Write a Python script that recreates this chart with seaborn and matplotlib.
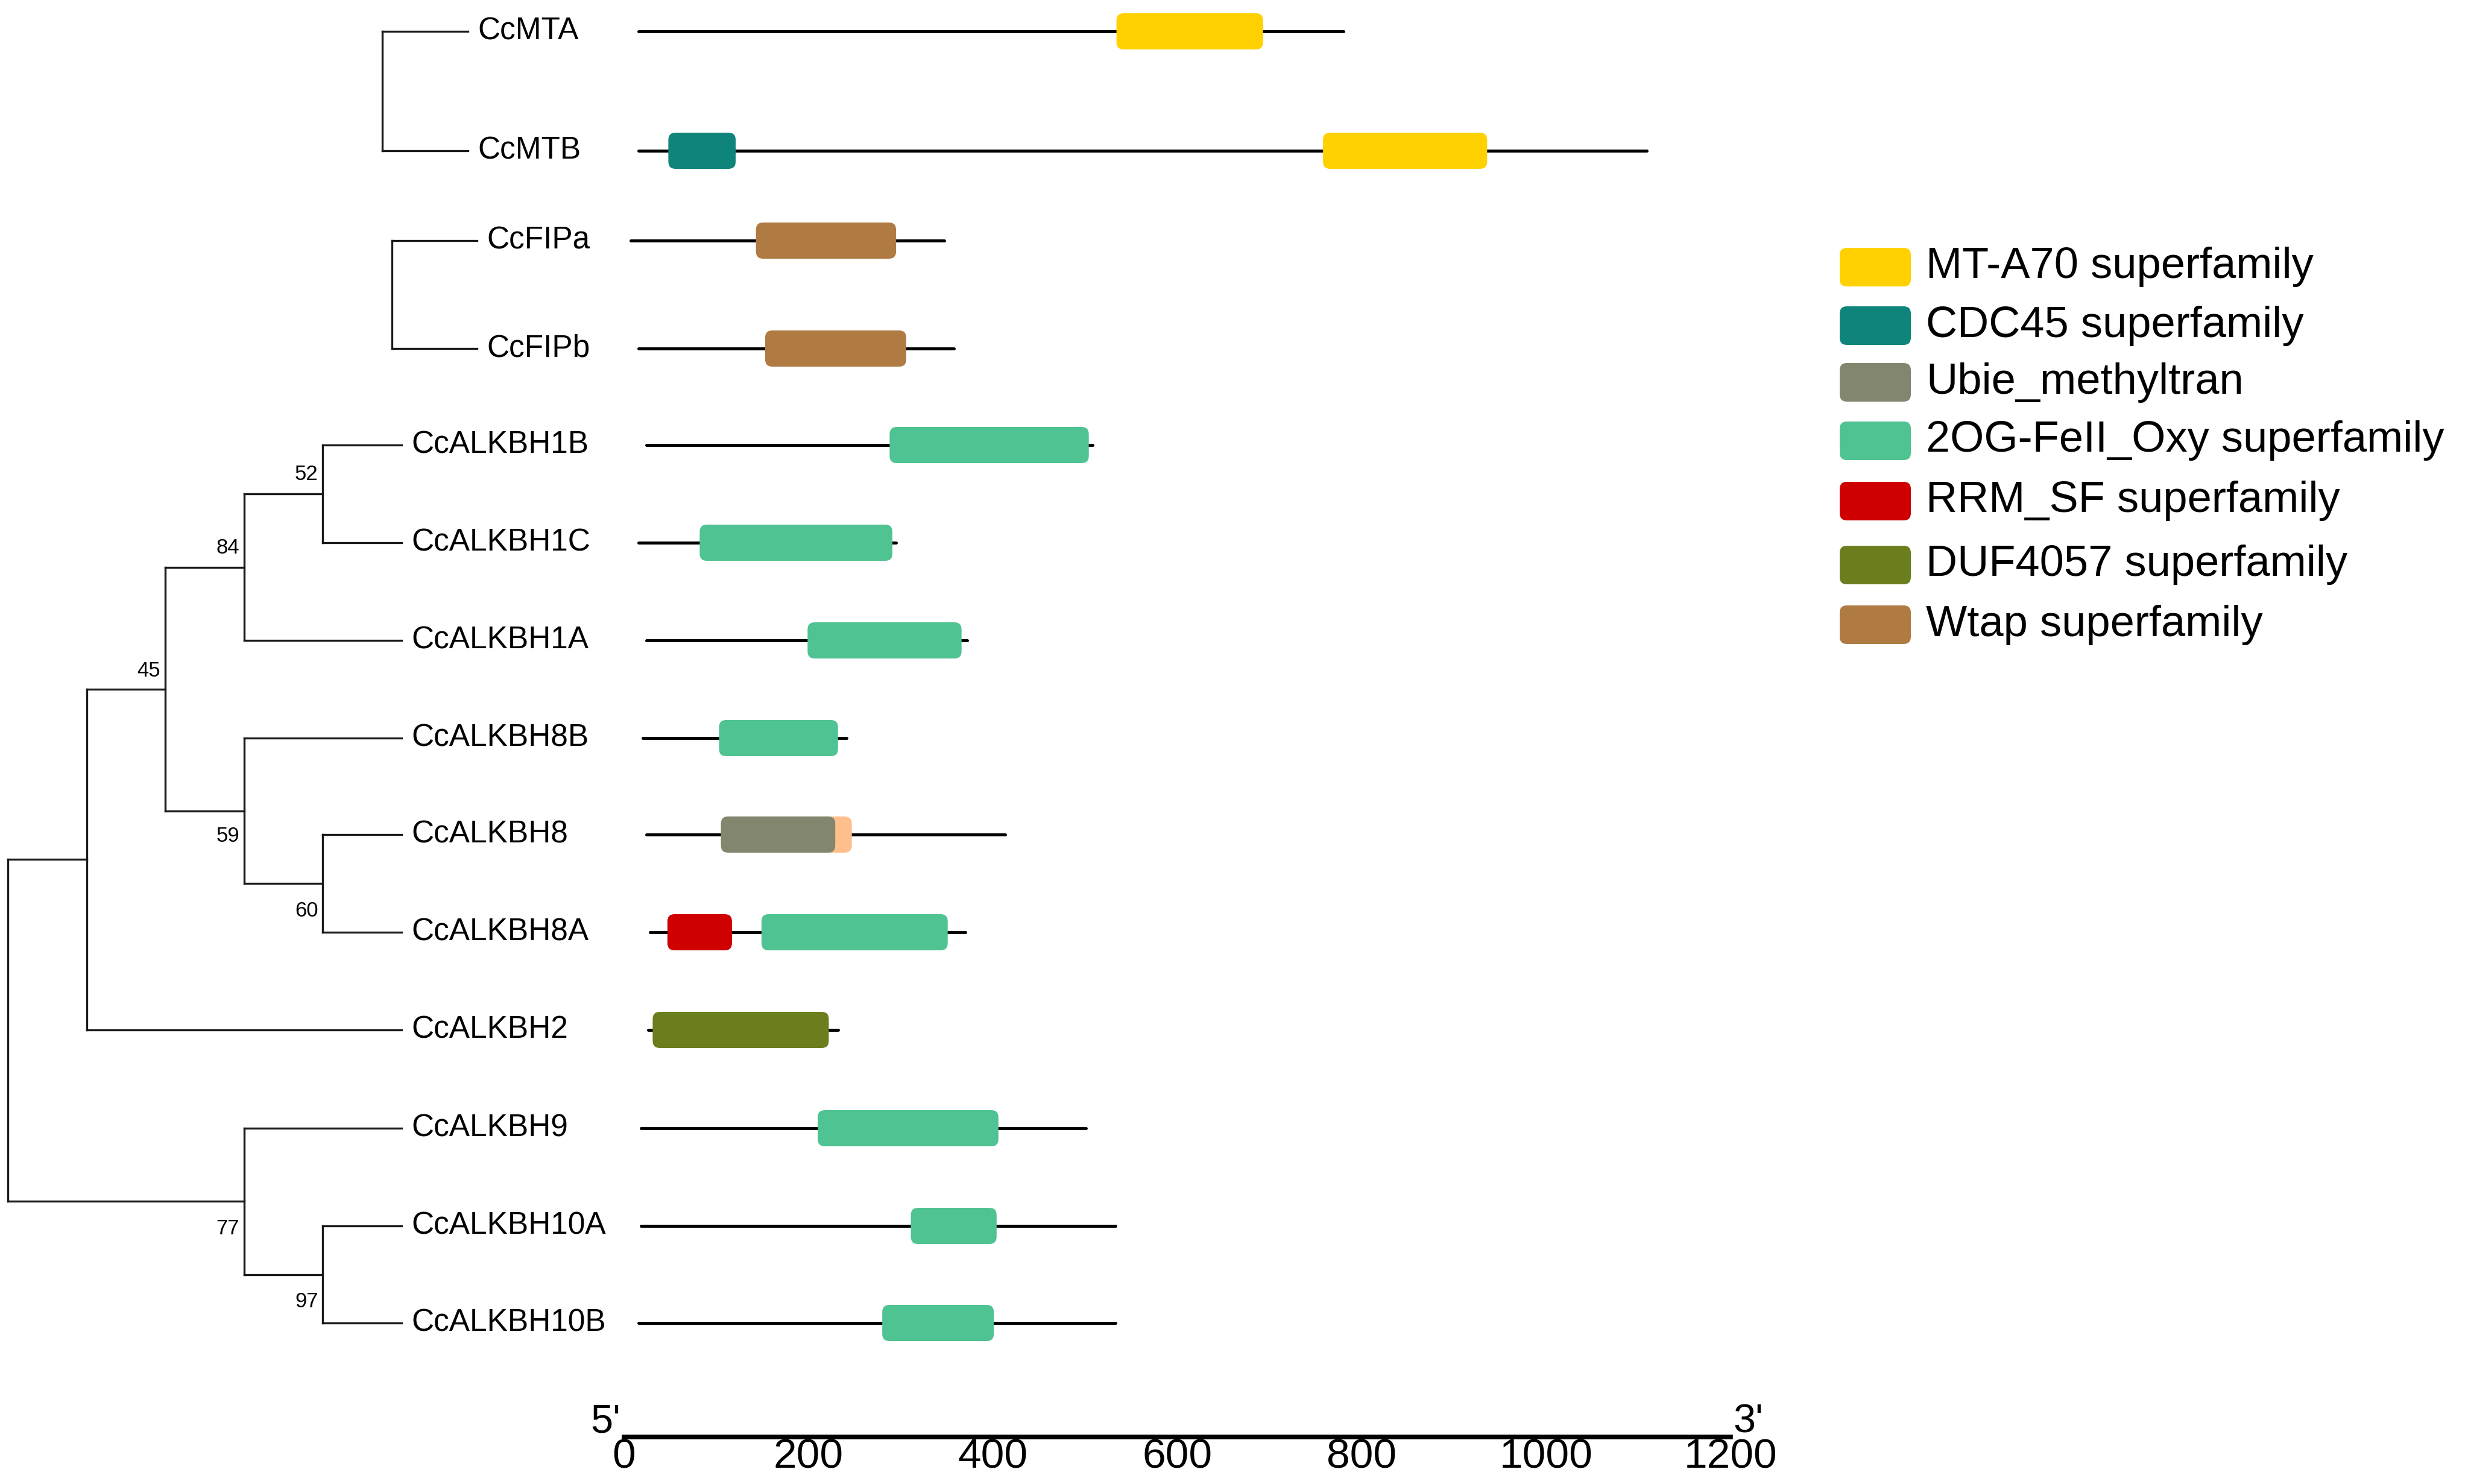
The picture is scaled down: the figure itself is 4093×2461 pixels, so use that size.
import pandas as pd
import matplotlib.pyplot as plt
from matplotlib.patches import FancyBboxPatch
import seaborn as sns

# ---- data ----
# proteins, top to bottom
genes = ["CcMTA", "CcMTB", "CcFIPa", "CcFIPb", "CcALKBH1B", "CcALKBH1C", "CcALKBH1A",
         "CcALKBH8B", "CcALKBH8", "CcALKBH8A", "CcALKBH2", "CcALKBH9", "CcALKBH10A", "CcALKBH10B"]
prot_start = [16, 16, 7, 16, 24, 16, 24, 20, 24, 28, 26, 18, 18, 16]
prot_end = [780, 1109, 347, 358, 508, 295, 372, 241, 413, 370, 232, 501, 533, 533]

# conserved domains (aa)
dom_gene = ["CcMTA", "CcMTB", "CcMTB", "CcFIPa", "CcFIPb", "CcALKBH1B", "CcALKBH1C", "CcALKBH1A",
            "CcALKBH8B", "CcALKBH8", "CcALKBH8", "CcALKBH8A", "CcALKBH8A", "CcALKBH2",
            "CcALKBH9", "CcALKBH10A", "CcALKBH10B"]
dom_family = ["MT-A70 superfamily", "CDC45 superfamily", "MT-A70 superfamily", "Wtap superfamily",
              "Wtap superfamily", "2OG-FeII_Oxy superfamily", "2OG-FeII_Oxy superfamily",
              "2OG-FeII_Oxy superfamily", "2OG-FeII_Oxy superfamily", "other", "Ubie_methyltran",
              "RRM_SF superfamily", "2OG-FeII_Oxy superfamily", "DUF4057 superfamily",
              "2OG-FeII_Oxy superfamily", "2OG-FeII_Oxy superfamily", "2OG-FeII_Oxy superfamily"]
dom_start = [534, 48, 758, 143, 153, 288, 82, 199, 103, 215, 105, 47, 149, 31, 210, 311, 280]
dom_end = [693, 121, 936, 295, 306, 504, 291, 366, 232, 247, 229, 117, 351, 222, 406, 404, 401]

families = ["MT-A70 superfamily", "CDC45 superfamily", "Ubie_methyltran", "2OG-FeII_Oxy superfamily",
            "RRM_SF superfamily", "DUF4057 superfamily", "Wtap superfamily"]
family_colors = ["#FFD100", "#0F847A", "#82866F", "#4FC391", "#CF0000", "#6B7E1D", "#B07B43"]
other_color = "#FFBF8C"

# cladograms
tree_mt = ("CcMTA", "CcMTB")
tree_fip = ("CcFIPa", "CcFIPb")
tree_alkbh = (((((("CcALKBH1B", "CcALKBH1C"), "CcALKBH1A"),
                 ("CcALKBH8B", ("CcALKBH8", "CcALKBH8A"))), "CcALKBH2"),
               ("CcALKBH9", ("CcALKBH10A", "CcALKBH10B"))))

support_clades = [("CcALKBH1B", "CcALKBH1C"),
                  ("CcALKBH1B", "CcALKBH1C", "CcALKBH1A"),
                  ("CcALKBH1B", "CcALKBH1C", "CcALKBH1A", "CcALKBH8B", "CcALKBH8", "CcALKBH8A"),
                  ("CcALKBH8B", "CcALKBH8", "CcALKBH8A"),
                  ("CcALKBH8", "CcALKBH8A"),
                  ("CcALKBH9", "CcALKBH10A", "CcALKBH10B"),
                  ("CcALKBH10A", "CcALKBH10B")]
support_values = [52, 84, 45, 59, 60, 77, 97]

scale_ticks = [0, 200, 400, 600, 800, 1000, 1200]

# ---- layout ----
W, H = 4093, 2461
row_y = dict(zip(genes, [52, 250, 399, 578, 738, 900, 1062, 1224, 1384, 1546, 1708, 1871, 2033, 2194]))
x0_px, x1_px = 1035, 2870          # 0 aa and 1200 aa
px_per_aa = (x1_px - x0_px) / 1200
box_h = 60
support_side = [-32, -32, -30, 42, 45, 45, 45]
legend_y = [443, 540, 634, 731, 831, 937, 1036]

sns.set_theme(style="white")
plt.rcParams['font.family'] = ['Liberation Sans', 'DejaVu Sans']

fig = plt.figure(figsize=(W / 100, H / 100), dpi=100)
ax_bg = fig.add_axes([0, 0, 1, 1])
ax_bg.set_xlim(0, W)
ax_bg.set_ylim(H, 0)
ax_bg.axis("off")

ax = fig.add_axes([x0_px / W, 0, (x1_px - x0_px) / W, 1])
ax.patch.set_alpha(0)


# tree
def leaves(node):
    return [node] if isinstance(node, str) else [l for c in node for l in leaves(c)]


def height(node):
    return 0 if isinstance(node, str) else 1 + max(height(c) for c in node)


node_pos = {}
line_kw = dict(color="#1a1a1a", lw=2.4, solid_capstyle="projecting")


def draw_tree(node, leaf_x, step):
    if isinstance(node, str):
        return leaf_x, row_y[node]
    pts = [draw_tree(c, leaf_x, step) for c in node]
    x = leaf_x - height(node) * step
    ys = [p[1] for p in pts]
    ax_bg.plot([x, x], [min(ys), max(ys)], **line_kw)
    for cx, cy in pts:
        ax_bg.plot([x, cx], [cy, cy], **line_kw)
    y = (min(ys) + max(ys)) / 2
    node_pos[tuple(leaves(node))] = (x, y)
    return x, y


for tree, leaf_x, step in [(tree_mt, 776, 142), (tree_fip, 791, 141), (tree_alkbh, 666, 130.6)]:
    draw_tree(tree, leaf_x, step)
    for g in leaves(tree):
        ax_bg.text(leaf_x + 16, row_y[g], g, ha="left", va="center", fontsize=37, color="black")

for clade, val, dy in zip(support_clades, support_values, support_side):
    nx, ny = node_pos[clade]
    ax_bg.text(nx - 8, ny + dy, str(val), ha="right", va="center", fontsize=25, color="black")

# protein backbones
bb = pd.DataFrame({"gene": genes * 2,
                   "aa": prot_start + prot_end,
                   "row": [row_y[g] for g in genes] * 2})
sns.lineplot(data=bb, x="aa", y="row", units="gene", estimator=None, sort=False,
             color="black", lw=3.6, ax=ax, legend=False)

# domains
color_of = dict(zip(families, family_colors))
color_of["other"] = other_color
r_aa = 12 / px_per_aa
for g, fam, s, e in zip(dom_gene, dom_family, dom_start, dom_end):
    y = row_y[g]
    ax.add_patch(FancyBboxPatch((s, y - box_h / 2), e - s, box_h,
                                boxstyle=f"round,pad=0,rounding_size={r_aa}",
                                mutation_aspect=px_per_aa,
                                fc=color_of[fam], ec="none", zorder=3))

# scale bar
ax.set_xlim(0, 1200)
ax.set_ylim(H, 0)
sns.despine(ax=ax, left=True, top=True, right=True)
ax.spines["bottom"].set_position(("data", 2383))
ax.spines["bottom"].set_linewidth(5.5)
ax.spines["bottom"].set_color("black")
ax.set_yticks([])
ax.set_xticks(scale_ticks)
ax.tick_params(axis="x", length=0, pad=1, labelsize=50, colors="black")
ax.set_xlabel("")
ax.set_ylabel("")
ax.text(-4, 2376, "5'", ha="right", va="baseline", fontsize=48, color="black")
ax.text(1203, 2376, "3'", ha="left", va="baseline", fontsize=48, color="black")

# legend
for fam, col, y in zip(families, family_colors, legend_y):
    ax_bg.add_patch(FancyBboxPatch((3051, y - 32), 118, 64,
                                   boxstyle="round,pad=0,rounding_size=12",
                                   fc=col, ec="none"))
    ax_bg.text(3194, y, fam, ha="left", va="center", fontsize=52, color="black")

fig.savefig("out.png", dpi=100, facecolor="white")
